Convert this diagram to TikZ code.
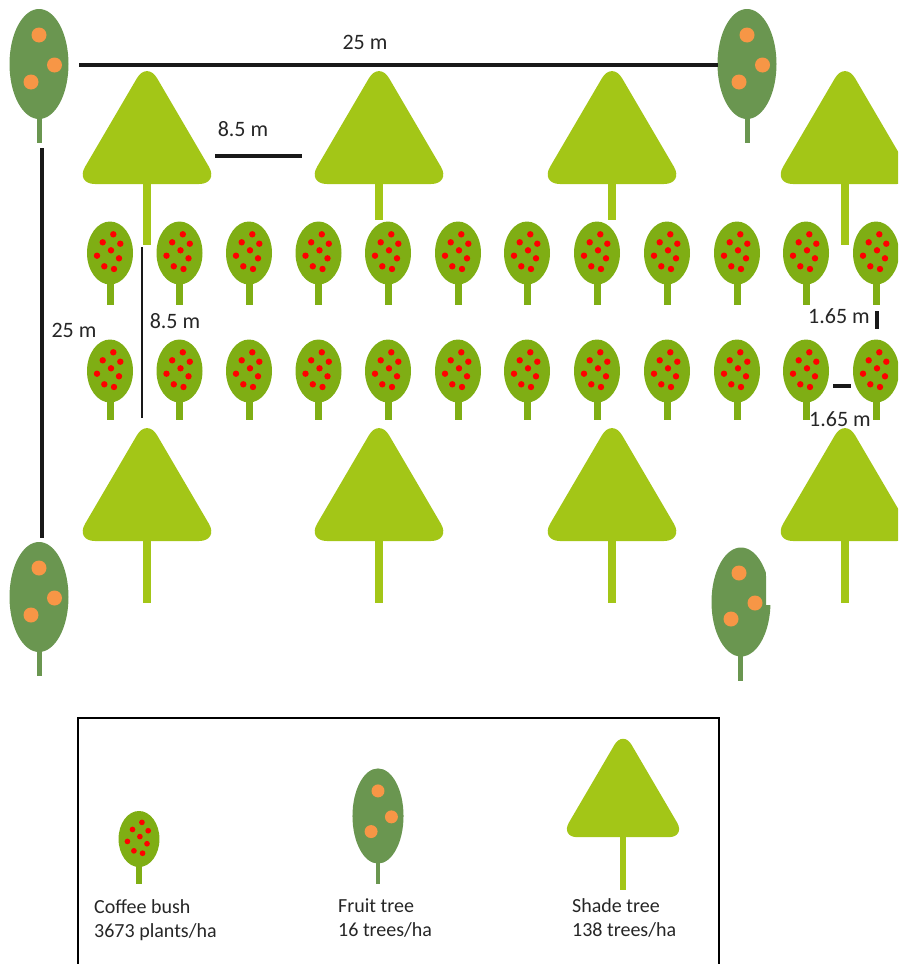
\documentclass[tikz,border=0pt]{standalone}
\usepackage{fontspec}
\setmainfont{Carlito}
\usepackage{xcolor}
\definecolor{shadegreen}{HTML}{A3C617}
\definecolor{bushgreen}{HTML}{7FAE14}
\definecolor{fruitgreen}{HTML}{6A9650}
\definecolor{fruitorange}{HTML}{F79646}
\tikzset{
    dimline/.style={black!90, line width=3.2pt},
    dimlabel/.style={font=\fontsize{22}{24}\selectfont, text=black!85, inner sep=0pt},
    legendlabel/.style={font=\fontsize{20}{24}\selectfont, text=black!85, inner sep=0pt, align=left, anchor=west},
    crownround/.style={rounded corners=20pt},
    pics/shadetree/.style={code={
        \fill[shadegreen] (-4, 100) rectangle (4, 114+#1);
        \fill[shadegreen, crownround] (0, -9) -- (-72, 114) -- (72, 114) -- cycle;
    }},
    pics/coffeebush/.style={code={
        \fill[bushgreen] (-3.5, 20) rectangle (3.5, #1);
        \fill[bushgreen] (0, 0) ellipse [x radius=23, y radius=31.5];
        \foreach \dx/\dy in {3.3/-18.7, -7.3/-10.7, 10.3/-9.3, 1/-2.7, -13/2.7, 9/5.3, -5.7/13.3, 4/16}
            \fill[red] (\dx, \dy) circle (3.2);
    }},
    pics/fruittree/.style={code={
        \fill[fruitgreen] (-2.5, 40) rectangle (2.5, 79);
        \fill[fruitgreen] (0, 0) ellipse [x radius=29.5, y radius=55];
        \foreach \dx/\dy in {0/-29, 15.5/1, -8/18}
            \fill[fruitorange] (\dx, \dy) circle (7.5);
    }}
}

\begin{document}
\begin{tikzpicture}[x=1pt, y=-1pt]
    \clip (0, 0) rectangle (898, 964);

    % Shade trees
    \pic at (147, 70) {shadetree=61};
    \pic at (379, 70) {shadetree=36};
    \pic at (612, 70) {shadetree=36};
    \pic at (845, 70) {shadetree=61};
    \foreach \x in {147, 379, 612, 845}
        \pic at (\x, 427) {shadetree=62};

    % Coffee bushes
    \foreach \x in {110, 179.5, 249, 318.5, 388, 458, 527, 597, 667, 737, 806, 876} {
        \pic at (\x, 253) {coffeebush=52};
        \pic at (\x, 371) {coffeebush=49};
    }

    % Fruit trees
    \pic at (39, 64) {fruittree};
    \pic at (747, 64) {fruittree};
    \pic at (39, 597) {fruittree};
    \begin{scope}
        \clip (700, 540) -- (766, 540) -- (766, 605) -- (771, 605) -- (771, 690) -- (700, 690) -- cycle;
        \fill[fruitgreen] (741, 602) ellipse [x radius=29.5, y radius=54.5];
    \end{scope}
    \fill[fruitgreen] (737.5, 640) rectangle (742.5, 681);
    \foreach \dx/\dy in {739/573, 755/603, 731/619}
        \fill[fruitorange] (\dx, \dy) circle (7.5);

    % Dimension lines
    \coordinate (topleft) at (79, 65);
    \coordinate (topright) at (718, 65);
    \coordinate (sidetop) at (42, 148);
    \coordinate (sidebottom) at (42, 538);
    \coordinate (gapleft) at (215, 156);
    \coordinate (gapright) at (302, 156);
    \coordinate (rowtop) at (142, 247);
    \coordinate (rowbottom) at (142, 418);
    \coordinate (bushtop) at (877, 311);
    \coordinate (bushbottom) at (877, 329);
    \coordinate (bushleft) at (833, 386);
    \coordinate (bushright) at (851, 386);

    \draw[dimline] (topleft) -- (topright);
    \draw[dimline] (sidetop) -- (sidebottom);
    \draw[dimline] (gapleft) -- (gapright);
    \draw[dimline, line width=2.4pt] (rowtop) -- (rowbottom);
    \draw[dimline] (bushtop) -- (bushbottom);
    \draw[dimline] (bushleft) -- (bushright);

    % Dimension labels
    \node[dimlabel] (toplabel) at (365, 42) {25 m};
    \node[dimlabel] (sidelabel) at (74, 330) {25 m};
    \node[dimlabel] (gaplabel) at (243, 129) {8.5 m};
    \node[dimlabel] (rowlabel) at (175, 321) {8.5 m};
    \node[dimlabel] (bushlabelv) at (839, 316) {1.65 m};
    \node[dimlabel] (bushlabelh) at (840, 419) {1.65 m};

    % Legend
    \draw[black, line width=1.8pt] (78, 966) -- (78, 718) -- (719, 718) -- (719, 966);
    \pic[scale=0.89] at (139, 839) {coffeebush=50};
    \pic[scale=0.865] at (378, 816) {fruittree};
    \pic[scale=0.87, crownround/.style={rounded corners=17pt}] at (623, 738) {shadetree=61};
    \node[legendlabel] (bushlegend) at (94, 920) {Coffee bush\\3673 plants/ha};
    \node[legendlabel] (fruitlegend) at (338, 918) {Fruit tree\\16 trees/ha};
    \node[legendlabel] (shadelegend) at (572, 918) {Shade tree\\138 trees/ha};
\end{tikzpicture}
\end{document}
